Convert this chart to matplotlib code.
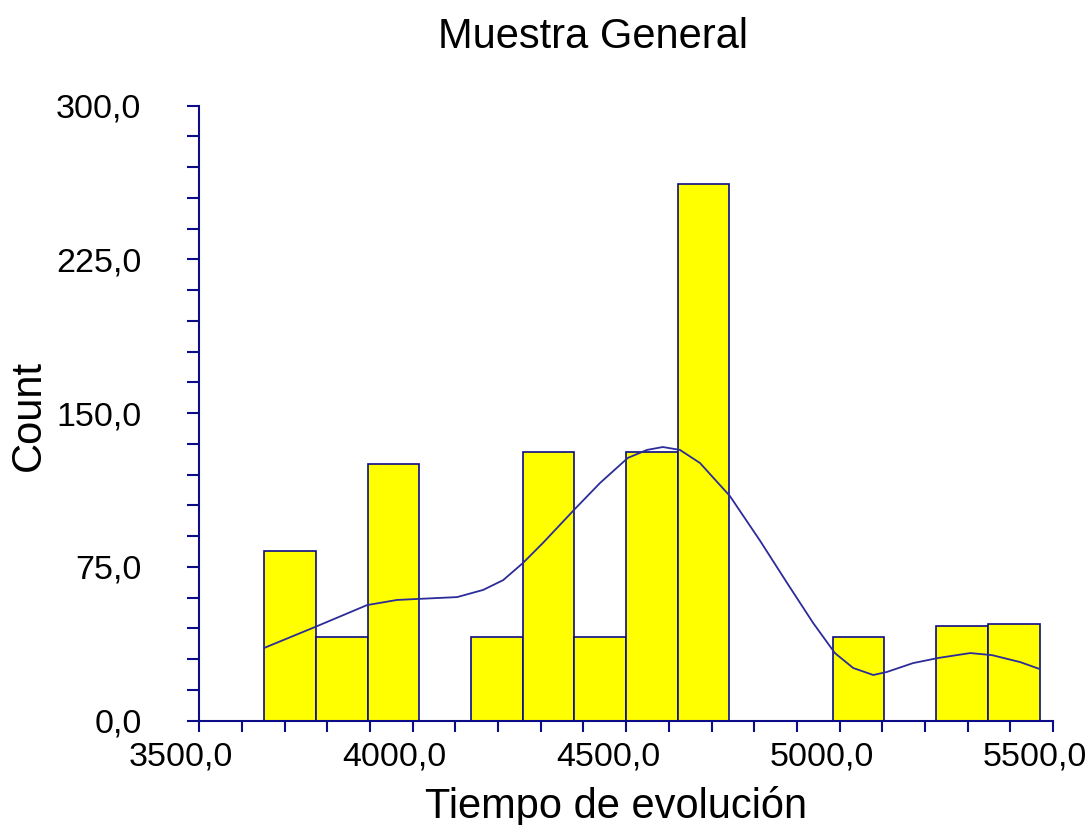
import numpy as np
import matplotlib.pyplot as plt
from matplotlib.ticker import MultipleLocator, FuncFormatter
from matplotlib.transforms import ScaledTranslation

plt.rcParams['font.family'] = ['Liberation Sans', 'DejaVu Sans']

# Histogram bins
bin_start = 3652.0
bin_width = 121.1
counts = [83, 41, 125, 0, 41, 131, 41, 131, 262, 0, 0, 41, 0, 46, 47]

# Density curve, scaled to counts
curve_x = [3652, 3771, 3893, 3963, 4012, 4104, 4165, 4212, 4258, 4305,
           4380, 4439, 4504, 4549, 4586, 4626, 4673, 4743, 4814, 4877,
           4938, 4989, 5032, 5079, 5111, 5172, 5231, 5306, 5357, 5423, 5469]
curve_y = [35.5, 45.7, 56.4, 58.9, 59.4, 60.3, 63.8, 68.6, 76.9, 86.7,
           103.3, 116.0, 128.2, 132.1, 133.5, 132.1, 125.7, 109.6, 87.7, 67.2,
           47.7, 33.0, 25.7, 22.3, 23.8, 28.1, 30.6, 33.0, 32.0, 28.6, 25.2]

navy = '#0c0c88'

fig = plt.figure(figsize=(10.92, 8.25), dpi=100)
ax = fig.add_axes([0.1825, 0.1264, 0.7818, 0.7455])

lefts = bin_start + bin_width * np.arange(len(counts))
for x0, c in zip(lefts, counts):
    if c > 0:
        ax.bar(x0, c, width=bin_width, align='edge', color='#ffff00',
               edgecolor=navy, linewidth=1.2, zorder=2)

ax.plot(curve_x, curve_y, color='#2b2b9a', linewidth=1.3, zorder=3)

ax.set_xlim(3500, 5500)
ax.set_ylim(0, 300)

for s in ['top', 'right']:
    ax.spines[s].set_visible(False)
for s in ['left', 'bottom']:
    ax.spines[s].set_color(navy)
    ax.spines[s].set_linewidth(1.5)

fmt = FuncFormatter(lambda v, p: ('%.1f' % v).replace('.', ','))
ax.xaxis.set_major_locator(MultipleLocator(500))
ax.xaxis.set_minor_locator(MultipleLocator(100))
ax.yaxis.set_major_locator(MultipleLocator(75))
ax.yaxis.set_minor_locator(MultipleLocator(15))
ax.xaxis.set_major_formatter(fmt)
ax.yaxis.set_major_formatter(fmt)

ax.tick_params(axis='x', which='both', direction='out', length=8, width=1.5,
               color=navy, labelsize=24.5, pad=7)
ax.tick_params(axis='y', which='both', direction='out', length=8.6, width=1.5,
               color=navy, labelsize=24.5, pad=33)

# x tick labels sit a bit to the left of their ticks in the original
shift = ScaledTranslation(-18 / 100, 0, fig.dpi_scale_trans)
for lab in ax.get_xticklabels():
    lab.set_transform(lab.get_transform() + shift)

fig.text(593 / 1092, 0.942, 'Muestra General', fontsize=30,
         ha='center', va='baseline')
fig.text(616 / 1092, 0.009, 'Tiempo de evolución', fontsize=30,
         ha='center', va='baseline')
fig.text(29 / 1092, 0.496, 'Count', fontsize=30, rotation=90,
         ha='center', va='center')

fig.savefig('out.png', dpi=100)
